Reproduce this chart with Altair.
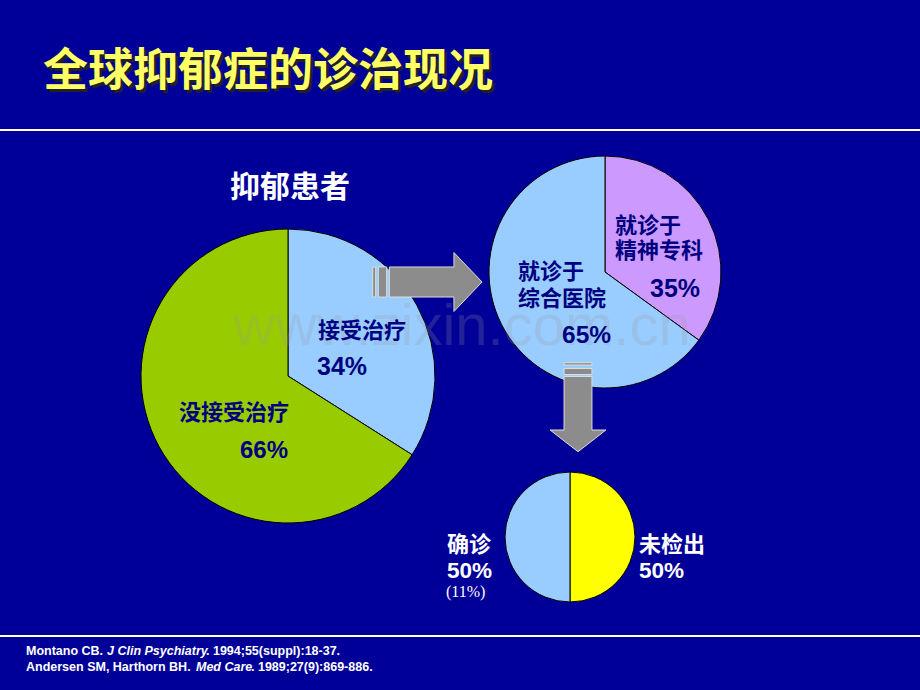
import altair as alt
import pandas as pd

# ---- data ----
pie1_labels = ["接受治疗", "没接受治疗"]
pie1_values = [34, 66]
pie1_colors = ["#99CCFF", "#99CC00"]

pie2_labels = ["就诊于精神专科", "就诊于综合医院"]
pie2_values = [35, 65]
pie2_colors = ["#CC99FF", "#99CCFF"]

pie3_labels = ["未检出", "确诊"]
pie3_values = [50, 50]
pie3_colors = ["#FFFF00", "#99CCFF"]

title_text = "全球抑郁症的诊治现况"
ref_line1 = ["Montano CB.", "J Clin Psychiatry", ". 1994;55(suppl):18-37."]
ref_line2 = ["Andersen SM, Harthorn BH.", "Med Care", ". 1989;27(9):869-886."]

BG = "#000099"
NAVY = "#000080"
CJK = "Noto Sans CJK SC"
LAT = "Liberation Sans"


def pie(labels, values, colors, cx, cy, r):
    df = pd.DataFrame({"label": labels, "value": values, "color": colors,
                       "order": list(range(len(labels)))})
    return alt.Chart(df).mark_arc(radius=r, x=cx, y=cy, stroke="black",
                                  strokeWidth=1).encode(
        theta=alt.Theta("value:Q", stack=True),
        color=alt.Color("color:N", scale=None),
        order=alt.Order("order:Q"),
    )


def label(text, x, y, size, color, font=CJK, weight="bold", align="left",
          style="normal", opacity=1.0, baseline="alphabetic"):
    return alt.Chart(alt.Data(values=[{"t": text}])).mark_text(
        x=x, y=y, fontSize=size, font=font, fontWeight=weight, align=align,
        baseline=baseline, color=color, fontStyle=style, opacity=opacity,
    ).encode(text="t:N")


def rule(y):
    return alt.Chart(alt.Data(values=[{}])).mark_rule(
        color="white", strokeWidth=2).encode(
        x=alt.value(0), x2=alt.value(920), y=alt.value(y))


def arrow(path, cx, cy, size):
    return alt.Chart(alt.Data(values=[{}])).mark_point(
        shape=path, size=size, filled=True, fill="#8C8C8C", stroke="#DDDDDD",
        strokeWidth=1, opacity=1).encode(x=alt.value(cx), y=alt.value(cy))


right_path = ("M-0.987,-0.273L-0.933,-0.273L-0.933,0.273L-0.987,0.273Z"
              "M-0.885,-0.273L-0.733,-0.273L-0.733,0.273L-0.885,0.273Z"
              "M-0.685,-0.273L0.49,-0.273L0.49,-0.535L1,0L0.49,0.535"
              "L0.49,0.273L-0.685,0.273Z")
down_path = ("M-0.31,-0.996L0.31,-0.996L0.31,-0.944L-0.31,-0.944Z"
             "M-0.31,-0.867L0.31,-0.867L0.31,-0.733L-0.31,-0.733Z"
             "M-0.31,-0.689L0.31,-0.689L0.31,0.5L0.62,0.5L0,0.982"
             "L-0.62,0.5L-0.31,0.5Z")

RS = 12.5

layers = [
    rule(130),
    rule(636),
    label(title_text, 45.5, 88.5, 45, "#222222"),
    label(title_text, 43, 86, 45, "#FFFF66"),
    label("抑郁患者", 290, 197, 30, "white", align="center"),
    pie(pie1_labels, pie1_values, pie1_colors, 288, 376, 147),
    pie(pie2_labels, pie2_values, pie2_colors, 605, 272, 116),
    pie(pie3_labels, pie3_values, pie3_colors, 570, 537, 65),
    label("www.zixin.com.cn", 233, 345, 58, "#9A9A9A", font=LAT,
          weight="normal", opacity=0.22),
    arrow(right_path, 427, 282, 110 * 110),
    arrow(down_path, 578, 407.5, 90 * 90),
    label("接受治疗", 318, 337.5, 22, NAVY),
    label("34%", 317, 375, 25, NAVY, font=LAT),
    label("没接受治疗", 179, 419.5, 22, NAVY),
    label("66%", 240, 457.5, 24, NAVY, font=LAT),
    label("就诊于", 615, 232.5, 22, NAVY),
    label("精神专科", 615, 257.5, 22, NAVY),
    label("35%", 650, 296.5, 25, NAVY, font=LAT),
    label("就诊于", 518, 278.5, 22, NAVY),
    label("综合医院", 518, 305.5, 22, NAVY),
    label("65%", 562, 342.5, 24.5, NAVY, font=LAT),
    label("确诊", 447, 551.5, 22, "white"),
    label("50%", 447, 577.5, 22.5, "white", font=LAT),
    label("(11%)", 446, 597, 16, "white", font="Liberation Serif",
          weight="normal"),
    label("未检出", 639, 551.5, 22, "white"),
    label("50%", 639, 577.5, 22.5, "white", font=LAT),
    label(ref_line1[0], 26, 655, RS, "white", font=LAT),
    label(ref_line1[1], 107, 655, RS, "white", font=LAT, style="italic"),
    label(ref_line1[2], 206, 655, RS, "white", font=LAT),
    label(ref_line2[0], 26, 671, RS, "white", font=LAT),
    label(ref_line2[1], 196, 671, RS, "white", font=LAT, style="italic"),
    label(ref_line2[2], 251, 671, RS, "white", font=LAT),
]

chart = alt.layer(*layers).properties(
    width=920, height=690, padding=0, autosize="none", background=BG
).configure_view(strokeWidth=0)

chart.save("out.html", embed_options={"renderer": "svg", "actions": False})
